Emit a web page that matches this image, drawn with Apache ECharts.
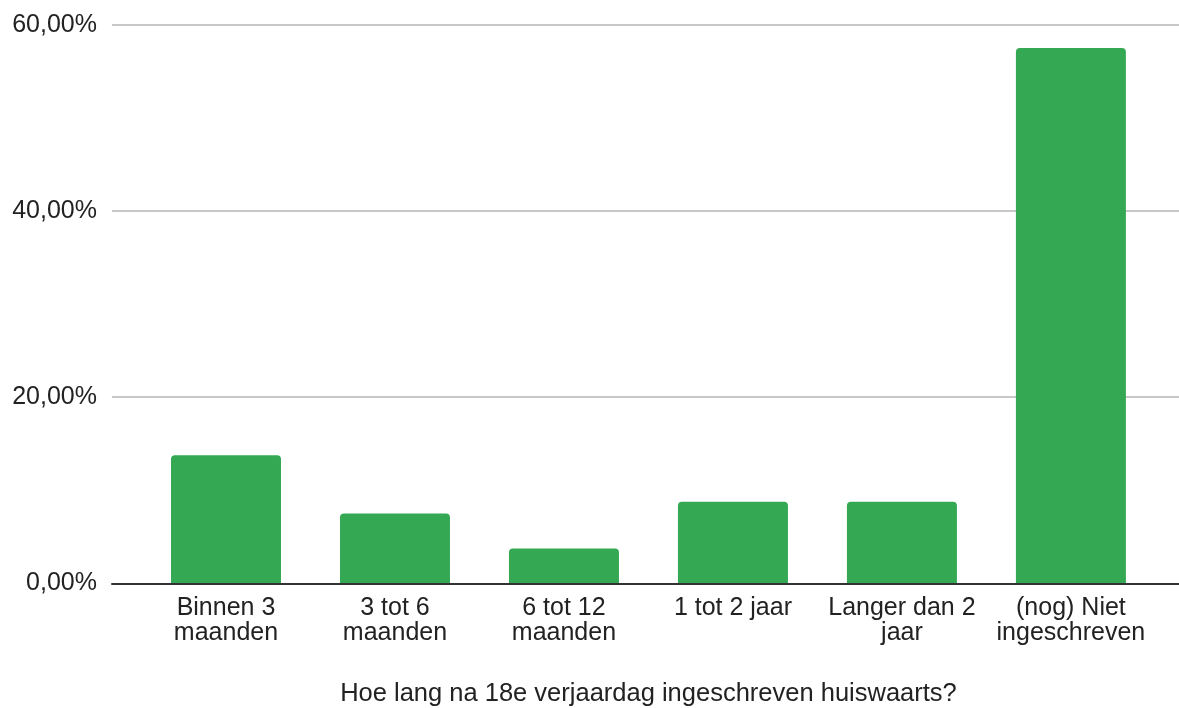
<!DOCTYPE html>
<html>
<head>
<meta charset="utf-8">
<script src="https://cdn.jsdelivr.net/npm/echarts@6/dist/echarts.min.js"></script>
<style>
html,body{margin:0;padding:0;background:#fff;}
#chart{width:1179px;height:708px;}
</style>
</head>
<body>
<div id="chart"></div>
<script>
const categories = ["Binnen 3\nmaanden", "3 tot 6\nmaanden", "6 tot 12\nmaanden", "1 tot 2 jaar", "Langer dan 2\njaar", "(nog) Niet\ningeschreven"];
const values = [13.75, 7.5, 3.75, 8.75, 8.75, 57.5];
const yTicks = [0, 20, 40, 60];
const axisTitle = "Hoe lang na 18e verjaardag ingeschreven huiswaarts?";

const FONT = "Liberation Sans, Arial, sans-serif";
const chart = echarts.init(document.getElementById('chart'));
chart.setOption({
  animation: false,
  grid: [
    {left: 112, right: 0, top: 24.7, bottom: 124.7, outerBoundsMode: 'none', containLabel: false},
    {left: 141.5, right: 23.6, top: 24.7, bottom: 124.7, outerBoundsMode: 'none', containLabel: false}
  ],
  xAxis: [
    {gridIndex: 0, type: 'value', min: 0, max: 1, z: 5,
      axisLine: {show: true, lineStyle: {color: '#333', width: 2}},
      axisTick: {show: false}, axisLabel: {show: false}, splitLine: {show: false}},
    {gridIndex: 1, type: 'category', data: categories,
      axisLine: {show: false}, axisTick: {show: false},
      axisLabel: {interval: 0, margin: 12, fontSize: 25, lineHeight: 25, color: '#222', fontFamily: FONT},
      name: axisTitle, nameLocation: 'middle', nameGap: 98,
      nameTextStyle: {fontSize: 25.5, color: '#222', fontFamily: FONT}}
  ],
  yAxis: [
    {gridIndex: 0, type: 'value', min: yTicks[0], max: yTicks[yTicks.length-1], interval: 20,
      axisLine: {show: false}, axisTick: {show: false},
      axisLabel: {margin: 15, fontSize: 25, color: '#222', fontFamily: FONT, padding: [6, 0, 0, 0],
        formatter: v => v.toFixed(2).replace('.', ',') + '%'},
      splitLine: {lineStyle: {color: '#c8c8c8', width: 2}}},
    {gridIndex: 1, type: 'value', min: yTicks[0], max: yTicks[yTicks.length-1], show: false,
      splitLine: {show: false}}
  ],
  series: [{
    type: 'bar', xAxisIndex: 1, yAxisIndex: 1, data: values,
    barWidth: 110,
    itemStyle: {color: '#34a853', borderRadius: [4, 4, 0, 0]}
  }]
});
</script>
</body>
</html>
